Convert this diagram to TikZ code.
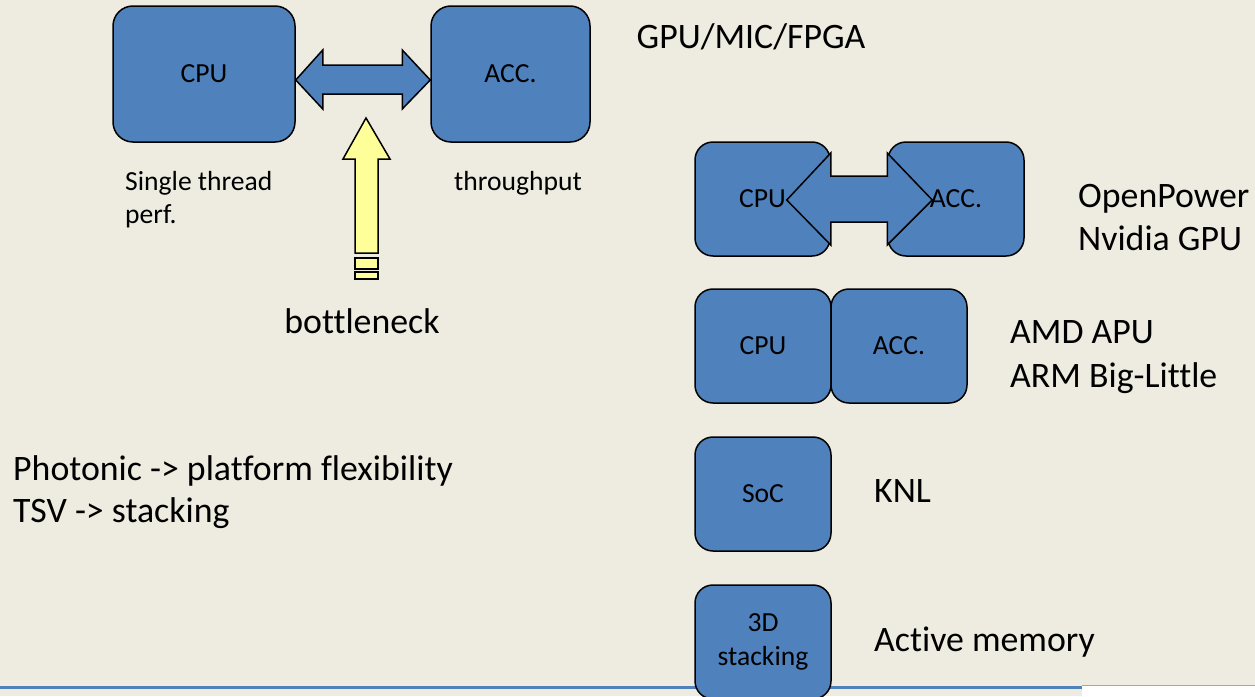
\documentclass[tikz,border=0pt]{standalone}
\usepackage{fontspec}
\setmainfont[Ligatures=NoCommon]{Carlito}
\usetikzlibrary{calc}
\definecolor{bgc}{HTML}{EEECE1}
\definecolor{boxblue}{HTML}{4F81BD}
\definecolor{pale}{HTML}{FFFF99}
\definecolor{thinblue}{HTML}{8EAADB}
\newcommand{\fsmall}{\fontsize{27.6}{34}\selectfont}
\newcommand{\fbig}{\fontsize{35.8}{42}\selectfont}
\begin{document}
\begin{tikzpicture}[x=1pt,y=-1pt,
  blk/.style={draw=black, line width=1.5pt, fill=boxblue, inner sep=0pt,
    font=\fsmall, align=center},
  bigblk/.style={blk, rounded corners=20pt, minimum height=136pt},
  smblk/.style={blk, rounded corners=18pt, minimum width=136pt, minimum height=114pt},
  fatarrow/.style={draw=black, line width=1.5pt, fill=boxblue, line join=miter},
  yel/.style={draw=black, line width=1.5pt, fill=pale},
  lblS/.style={anchor=base west, inner sep=0pt, font=\fsmall},
  lblB/.style={anchor=base west, inner sep=0pt, font=\fbig}]
\useasboundingbox (0,0) rectangle (1255,696);
\fill[bgc] (0,0) rectangle (1255,696);
% bottom rule
\fill[boxblue] (0,685.5) rectangle (1082,689);
\fill[white] (1082,686) rectangle (1255,696);
\draw[thinblue, line width=1pt] (1082,685.5) -- (1255,685.5);

% top-left group
\node[bigblk, minimum width=182pt] (cpu1) at (204,74) {CPU};
\node[bigblk, minimum width=159pt] (acc1) at (510.5,74) {ACC.};
\draw[fatarrow]
  ($(cpu1.east)+(0,6)$) -- ++(27,-30) -- ++(0,15) -- ($(acc1.west)+(-28,-9)$)
  -- ++(0,-15) -- ($(acc1.west)+(0,6)$) -- ++(-28,29) -- ++(0,-15)
  -- ($(cpu1.east)+(27,20)$) -- ++(0,15) -- cycle;
\node[lblS] (st1) at (125,190) {Single thread};
\node[lblS] (st2) at (125,223) {perf.};
\node[lblS] (thr) at (454,190) {throughput};
\node[lblB] (gpu) at (636.5,48) {GPU/MIC/FPGA};
% bottleneck arrow
\draw[yel] (366,118) -- (390,159) -- (378,159) -- (378,253) -- (355,253)
  -- (355,159) -- (343,159) -- cycle;
\draw[yel] (355,258) rectangle (378,269);
\draw[yel] (355,272) rectangle (378,279);
\node[anchor=base, inner sep=0pt, font=\fbig] (bot) at (362,333) {bottleneck};

\node[lblB] (ph1) at (13,480) {Photonic -> platform flexibility};
\node[lblB] (ph2) at (13,522) {TSV -> stacking};

% right column
\node[smblk, minimum width=135pt] (cpu2) at (762.5,199) {CPU};
\node[smblk] (acc2) at (956,199) {ACC.};
\draw[fatarrow]
  ($(cpu2.east)+(-44,1)$) -- ($(cpu2.east)+(0,-46)$) -- ($(cpu2.east)+(0,-23)$)
  -- ($(acc2.west)+(0,-23)$) -- ($(acc2.west)+(0,-46)$) -- ($(acc2.west)+(45,1)$)
  -- ($(acc2.west)+(0,46)$) -- ($(acc2.west)+(0,23)$) -- ($(cpu2.east)+(0,23)$)
  -- ($(cpu2.east)+(0,46)$) -- cycle;
\node[lblB] (op1) at (1078,207) {OpenPower};
\node[lblB] (op2) at (1078,250) {Nvidia GPU};

\node[smblk] (cpu3) at (763,346) {CPU};
\node[smblk] (acc3) at (899,346) {ACC.};
\node[lblB] (amd1) at (1010,343.5) {AMD APU};
\node[lblB] (amd2) at (1010,387) {ARM Big-Little};

\node[smblk] (soc) at (763,494) {SoC};
\node[lblB] (knl) at (874,502) {KNL};

\node[smblk] (stk) at (763,642) {3D\\stacking};
\node[lblB] (act) at (874,651) {Active memory};
\end{tikzpicture}
\end{document}
